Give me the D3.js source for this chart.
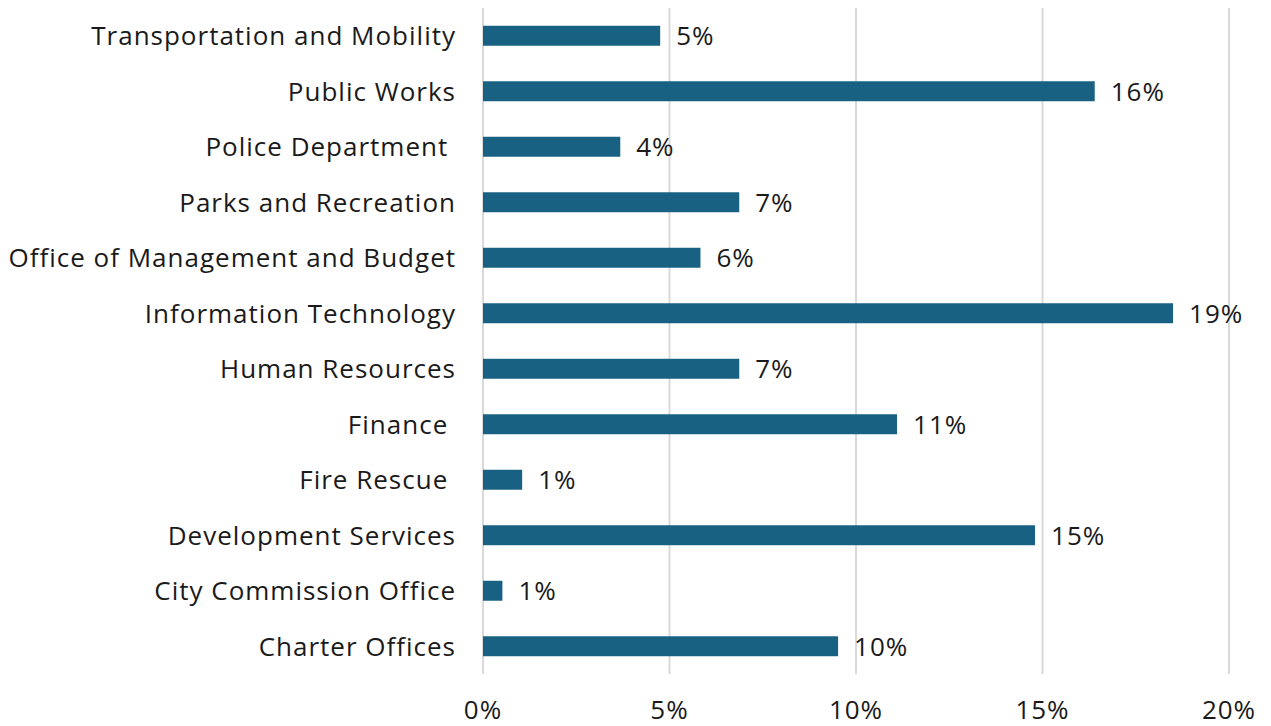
<!DOCTYPE html>
<html>
<head>
<meta charset="utf-8">
<script src="https://cdn.jsdelivr.net/npm/d3@7"></script>
<style>
  body { margin: 0; background: #fff; }
  text { font-family: "Open Sans", "Noto Sans", sans-serif; fill: #1a1a1a; white-space: pre; letter-spacing: 1px; }
</style>
</head>
<body>
<div id="chart"></div>
<script>
// departments, top to bottom as drawn
const departments = [
  "Transportation and Mobility",
  "Public Works",
  "Police Department ",
  "Parks and Recreation",
  "Office of Management and Budget",
  "Information Technology",
  "Human Resources",
  "Finance ",
  "Fire Rescue ",
  "Development Services",
  "City Commission Office",
  "Charter Offices"
];
const shares = [0.0475, 0.164, 0.0368, 0.0687, 0.0583, 0.185, 0.0687, 0.111, 0.0105, 0.148, 0.0052, 0.0952];
const xTicks = [0, 0.05, 0.10, 0.15, 0.20];

const width = 1271, height = 726;
const margin = {top: 8, right: 42, bottom: 52, left: 483};

const svg = d3.select("#chart").append("svg")
    .attr("width", width)
    .attr("height", height);

const x = d3.scaleLinear().domain([0, 0.20]).range([margin.left, 1229]);
const y = d3.scaleBand().domain(departments).range([margin.top, 674]).paddingInner(0.64).paddingOuter(0.32);

// gridlines
svg.append("g").selectAll("line")
    .data(xTicks)
    .enter().append("line")
    .attr("x1", d => x(d)).attr("x2", d => x(d))
    .attr("y1", margin.top).attr("y2", 674)
    .attr("stroke", "#d9d9d9")
    .attr("stroke-width", 2);

// bars
svg.append("g").selectAll("rect")
    .data(departments)
    .enter().append("rect")
    .attr("x", x(0))
    .attr("y", d => y(d))
    .attr("height", y.bandwidth())
    .attr("width", (d, i) => x(shares[i]) - x(0))
    .attr("fill", "#186182");

// value labels
svg.append("g").selectAll("text")
    .data(departments)
    .enter().append("text")
    .attr("x", (d, i) => x(shares[i]) + 16)
    .attr("y", d => y(d) + y.bandwidth() / 2)
    .attr("dy", "0.36em")
    .attr("font-size", 26)
    .text((d, i) => d3.format(".0%")(shares[i]));

// category labels
svg.append("g").selectAll("text")
    .data(departments)
    .enter().append("text")
    .attr("x", 456)
    .attr("y", d => y(d) + y.bandwidth() / 2)
    .attr("dy", "0.36em")
    .attr("text-anchor", "end")
    .attr("font-size", 26)
    .text(d => d);

// x tick labels
svg.append("g").selectAll("text")
    .data(xTicks)
    .enter().append("text")
    .attr("x", d => x(d))
    .attr("y", 719)
    .attr("text-anchor", "middle")
    .attr("font-size", 26)
    .text(d => d3.format(".0%")(d));
</script>
</body>
</html>
